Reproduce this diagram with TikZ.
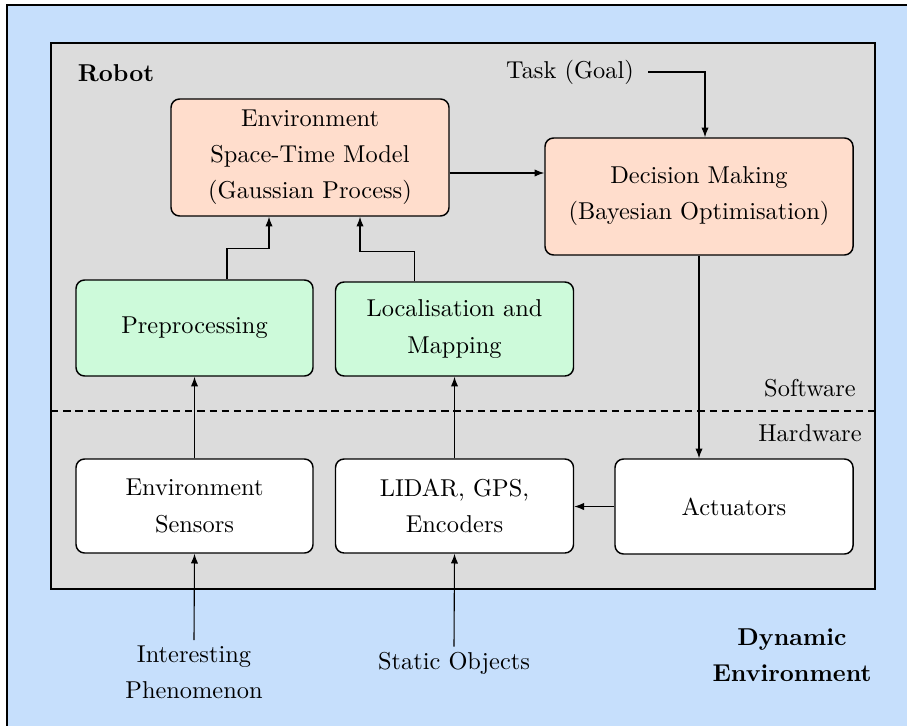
\documentclass[tikz,border=0pt]{standalone}
\usetikzlibrary{arrows.meta,calc}
\definecolor{envblue}{RGB}{198,223,252}
\definecolor{robotgrey}{RGB}{220,220,220}
\definecolor{modelpeach}{RGB}{255,221,204}
\definecolor{procgreen}{RGB}{205,250,218}
\newcommand{\pxu}{0.41pt}
\begin{document}
\begin{tikzpicture}[x=0.41pt,y=-0.41pt,
  box/.style={draw, rounded corners=3.5pt, semithick, align=center, font=\fontsize{10}{14.8}\selectfont},
  arr/.style={-{Latex[length=4pt,width=3pt]}, line width=0.45pt},
  lbl/.style={align=center, inner sep=2pt, font=\fontsize{10}{14.8}\selectfont}]
\clip (0,0) rectangle (907,725);

%Rectangles (environment and robot)
\draw [semithick, fill=envblue] (7,5) rectangle (1000,800);
\draw [semithick, fill=robotgrey] (51,43) rectangle (875,589);
%Straight Lines (software / hardware split)
\draw [semithick, dash pattern=on 3pt off 2pt] (51,411) -- (875,411);

% Text Node
\node [font=\bfseries] (robot) at (116,73) {Robot};
% Text Node
\node [lbl] (task) at (570,72) {Task (Goal)};
% Text Node
\node [lbl] (sw) at (810,388) {Software};
% Text Node
\node [lbl] (hw) at (810,433) {Hardware};

% Software blocks
\node [box, fill=modelpeach, minimum width=278*\pxu, minimum height=117*\pxu] (model) at (310,157.5) {Environment\\Space-Time Model\\(Gaussian Process)};
\node [box, fill=modelpeach, minimum width=308*\pxu, minimum height=117*\pxu] (dec) at (699,196.5) {Decision Making\\(Bayesian Optimisation)};
\node [box, fill=procgreen, minimum width=237*\pxu, minimum height=96*\pxu] (pre) at (194.5,328) {Preprocessing};
\node [box, fill=procgreen, minimum width=238*\pxu, minimum height=94*\pxu] (loc) at (454.5,329) {Localisation and\\Mapping};

% Hardware blocks
\node [box, fill=white, minimum width=237*\pxu, minimum height=94*\pxu] (sens) at (194.5,506) {Environment\\Sensors};
\node [box, fill=white, minimum width=238*\pxu, minimum height=94*\pxu] (lidar) at (454.5,506) {LIDAR, GPS,\\Encoders};
\node [box, fill=white, minimum width=238*\pxu, minimum height=95*\pxu] (act) at (734,506.5) {Actuators};

% Outside the robot
\node [lbl] (phen) at (194,672) {Interesting\\Phenomenon};
\node [lbl] (static) at (454,663) {Static Objects};
\node [lbl, font=\bfseries\fontsize{10}{14.8}\selectfont] (dyn) at (792,655) {Dynamic\\Environment};

%Arrows
\draw [arr] ($(task.east)+(9,0)$) -| ($(dec.north)+(6,0)$);
\draw [arr] ($(model.east)+(0,15.5)$) coordinate (m2d) -- (m2d -| dec.west);
\draw [arr] ($(pre.north)+(32.5,0)$) |- ($(model.south)+(-41,32)$) -- ($(model.south)+(-41,0)$);
\draw [arr] ($(loc.north)+(-40,0)$) |- ($(model.south)+(50,35)$) -- ($(model.south)+(50,0)$);
\draw [arr] (dec.south) -- (dec.south |- act.north);
\draw [arr] (act.west) -- (lidar.east |- act.west);
\draw [arr] (sens.north) -- (pre.south);
\draw [arr] (lidar.north) -- (loc.south);
\draw [arr] (phen.north) -- (sens.south);
\draw [arr] (static.north) -- (lidar.south);

\end{tikzpicture}
\end{document}
